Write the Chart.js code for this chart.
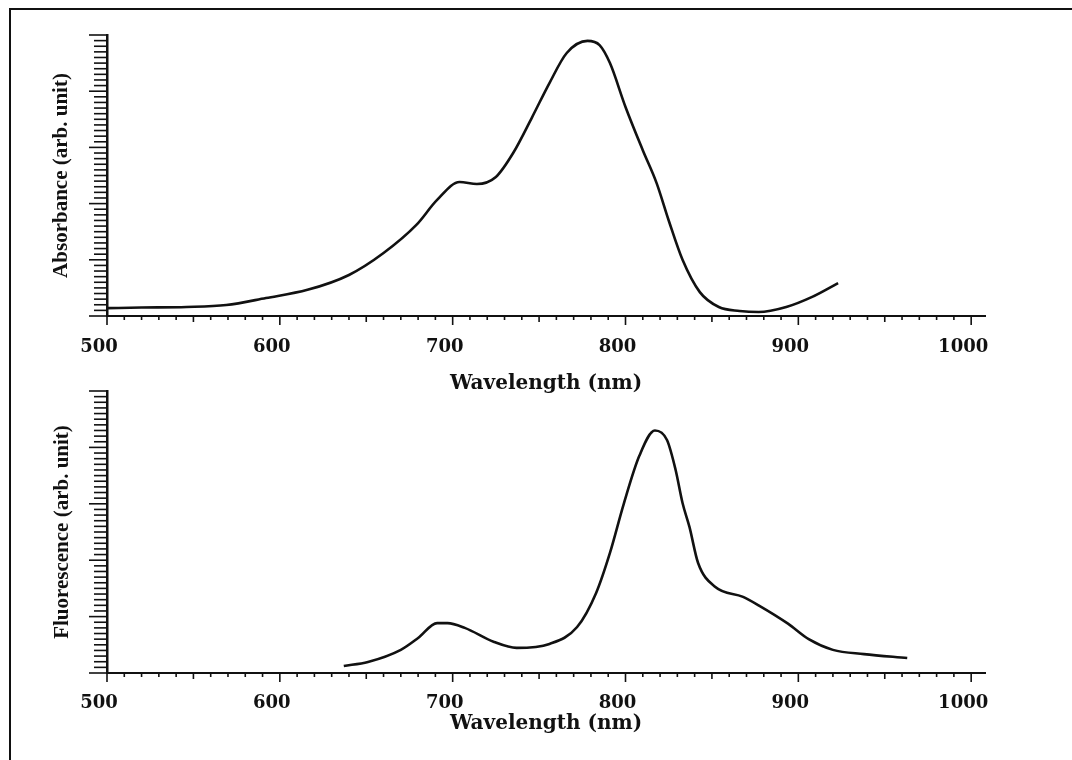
<!DOCTYPE html>
<html>
<head>
<meta charset="utf-8">
<script src="https://cdn.jsdelivr.net/npm/chart.js@4.4.1/dist/chart.umd.min.js"></script>
<style>
  html, body { margin: 0; padding: 0; background: #fff; overflow: hidden; }
  body { width: 1072px; height: 760px; position: relative; }
  #frame { position: absolute; left: 9px; top: 8px; width: 1100px; height: 800px;
           border-top: 2px solid #111; border-left: 2px solid #111; }
  .box { position: absolute; left: 0; width: 1072px; }
  #box1 { top: 0; height: 400px; }
  #box2 { top: 380px; height: 380px; }
</style>
</head>
<body>
<div id="frame"></div>
<div class="box" id="box1"><canvas id="c1"></canvas></div>
<div class="box" id="box2"><canvas id="c2"></canvas></div>
<script>
// ---- data ----
const xTickLabels = [500, 600, 700, 800, 900, 1000];

const absWavelength = [500, 520, 546, 569, 592, 616, 640, 660, 679, 691, 704, 714, 725, 735, 746, 756, 766, 778, 785, 791, 800, 810, 818, 825, 833, 843, 854, 866, 877, 893, 908, 923];
const absValues     = [2.8, 3.0, 3.2, 3.9, 6.4, 9.3, 14.6, 22.4, 32.4, 41.3, 47.7, 47.0, 49.5, 58, 70.8, 82.9, 93.6, 97.9, 96.4, 90, 74.4, 59, 47.3, 34, 20, 8.5, 3.2, 1.8, 1.4, 3.2, 6.8, 11.7];

const fluWavelength = [637, 651, 670, 680, 691, 697, 707, 724, 737, 756, 772, 783, 791, 799, 808, 817, 824, 829, 833, 837, 842, 852, 868, 877, 894, 906, 920, 938, 963];
const fluValues     = [2.5, 3.9, 8.2, 12.4, 17.7, 17.7, 16, 11, 8.9, 10.3, 16.3, 28.4, 42.6, 60, 77, 86, 82.6, 72, 60.3, 51.8, 39, 30.5, 27, 24, 17.5, 12, 8.2, 6.7, 5.3];

const xTitle = 'Wavelength (nm)';
const yTitleTop = 'Absorbance (arb. unit)';
const yTitleBottom = 'Fluorescence (arb. unit)';

// ---- helpers ----
function toPoints(xs, ys) { return xs.map((x, i) => ({ x: x, y: ys[i] })); }

const rulerTicks = {
  id: 'rulerTicks',
  afterDraw(chart) {
    const ctx = chart.ctx, xs = chart.scales.x, ys = chart.scales.y, area = chart.chartArea;
    ctx.save();
    ctx.strokeStyle = '#111';
    ctx.lineWidth = 1.6;
    xs.ticks.forEach(t => {
      const px = xs.getPixelForValue(t.value);
      const len = t.value % 100 === 0 ? 9 : (t.value % 50 === 0 ? 6 : 4);
      ctx.beginPath(); ctx.moveTo(px, area.bottom); ctx.lineTo(px, area.bottom + len); ctx.stroke();
    });
    ys.ticks.forEach(t => {
      const py = ys.getPixelForValue(t.value);
      const len = t.value % 20 === 0 ? 18 : 13;
      ctx.beginPath(); ctx.moveTo(area.left, py); ctx.lineTo(area.left - len, py); ctx.stroke();
    });
    ctx.restore();
  }
};

function makeChart(canvasId, xs, ys, yTitle, cfg) {
  return new Chart(document.getElementById(canvasId), {
    type: 'line',
    data: {
      datasets: [{
        data: toPoints(xs, ys),
        borderColor: '#111',
        borderWidth: 2.6,
        pointRadius: 0,
        fill: false,
        tension: 0.4,
        cubicInterpolationMode: 'monotone'
      }]
    },
    plugins: [rulerTicks],
    options: {
      responsive: true,
      maintainAspectRatio: false,
      animation: false,
      events: [],
      layout: { padding: { left: 0, right: 87, top: cfg.top, bottom: 0 } },
      plugins: { legend: { display: false }, tooltip: { enabled: false } },
      scales: {
        x: {
          type: 'linear',
          min: 500,
          max: 1008,
          afterBuildTicks: s => {
            const t = [];
            for (let v = 500; v <= 1000; v += 10) t.push({ value: v });
            s.ticks = t;
          },
          afterFit: s => { s.height = cfg.xHeight; },
          grid: { display: false },
          border: { display: true, color: '#111', width: 2 },
          ticks: {
            autoSkip: false, maxRotation: 0, minRotation: 0,
            padding: cfg.labelPad,
            labelOffset: -8,
            color: '#111',
            font: { family: 'DejaVu Serif', weight: 'bold', size: 18 },
            callback: v => xTickLabels.includes(v) ? String(v) : ''
          },
          title: {
            display: true, text: xTitle, color: '#111',
            font: { family: 'DejaVu Serif', weight: 'bold', size: 20 },
            padding: { top: 0, bottom: cfg.xTitlePad }
          }
        },
        y: {
          type: 'linear',
          min: 0,
          max: 100,
          afterBuildTicks: s => {
            const t = [];
            for (let v = 0; v <= 100; v += 2) t.push({ value: v });
            s.ticks = t;
          },
          afterFit: s => { s.width = 107; },
          grid: { display: false },
          border: { display: true, color: '#111', width: 2.5 },
          ticks: { display: false },
          title: {
            display: true, text: yTitle, color: '#111',
            font: { family: 'Liberation Serif', weight: 'bold', size: 21 },
            padding: { top: cfg.yTitlePad, bottom: 0 }
          }
        }
      }
    }
  });
}

makeChart('c1', absWavelength, absValues, yTitleTop,
  { top: 35, xHeight: 84, labelPad: 13, xTitlePad: 4, yTitlePad: 49 });
makeChart('c2', fluWavelength, fluValues, yTitleBottom,
  { top: 11, xHeight: 87, labelPad: 12, xTitlePad: 24, yTitlePad: 50 });
</script>
</body>
</html>
